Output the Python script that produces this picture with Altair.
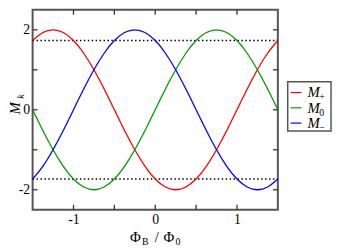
import altair as alt
import pandas as pd

# ---- data ----
x_vals = [-1.5, -1.375, -1.25, -1.125, -1.0, -0.875, -0.75, -0.625, -0.5, -0.375,
          -0.25, -0.125, 0.0, 0.125, 0.25, 0.375, 0.5, 0.625, 0.75, 0.875,
          1.0, 1.125, 1.25, 1.375, 1.5]
m_plus = [1.732, 1.932, 2.0, 1.932, 1.732, 1.414, 1.0, 0.518, 0.0, -0.518,
          -1.0, -1.414, -1.732, -1.932, -2.0, -1.932, -1.732, -1.414, -1.0, -0.518,
          0.0, 0.518, 1.0, 1.414, 1.732]
m_zero = [0.0, -0.518, -1.0, -1.414, -1.732, -1.932, -2.0, -1.932, -1.732, -1.414,
          -1.0, -0.518, 0.0, 0.518, 1.0, 1.414, 1.732, 1.932, 2.0, 1.932,
          1.732, 1.414, 1.0, 0.518, 0.0]
m_minus = [-1.732, -1.414, -1.0, -0.518, 0.0, 0.518, 1.0, 1.414, 1.732, 1.932,
           2.0, 1.932, 1.732, 1.414, 1.0, 0.518, 0.0, -0.518, -1.0, -1.414,
           -1.732, -1.932, -2.0, -1.932, -1.732]
series_names = ["M+", "M0", "M-"]
series_subs = ["+", "0", "\u2212"]
series_colors = ["#ff0000", "#009a00", "#0000ff"]
ref_levels = [1.732, -1.732]
x_ticks = [-1.0, -0.5, 0.0, 0.5, 1.0]
y_ticks = [-2, -1, 0, 1, 2]
x_labels = [-1, 0, 1]
y_labels = [-2, 0, 2]

W, H = 249, 203
FONT = "Liberation Serif"
TICK = 5

rows = []
for name, vals in zip(series_names, [m_plus, m_zero, m_minus]):
    for xv, yv in zip(x_vals, vals):
        rows.append({"x": xv, "v": yv, "series": name})
df = pd.DataFrame(rows)

xs = alt.Scale(domain=[-1.5, 1.5], nice=False, zero=False)
ys = alt.Scale(domain=[-2.5, 2.5], nice=False, zero=False)
x_axis = alt.Axis(values=x_labels, ticks=False, domain=False, grid=False, title=None,
                  labelFont=FONT, labelFontSize=14, labelColor="black", labelPadding=3,
                  labelExpr="'' + datum.value")
y_axis = alt.Axis(values=y_labels, ticks=False, domain=False, grid=False, title=None,
                  labelFont=FONT, labelFontSize=14, labelColor="black", labelPadding=3,
                  labelExpr="'' + datum.value")

X = alt.X("x:Q", scale=xs, axis=x_axis)
Y = alt.Y("v:Q", scale=ys, axis=y_axis)

refs = alt.Chart(pd.DataFrame({"v": ref_levels})).mark_rule(
    color="black", strokeWidth=1.5, strokeDash=[1.5, 2.5]
).encode(y=Y, x=alt.value(0), x2=alt.value(W))

lines = alt.Chart(df).mark_line(strokeWidth=1.3, interpolate="natural").encode(
    x=X, y=Y,
    color=alt.Color("series:N", scale=alt.Scale(domain=series_names, range=series_colors), legend=None),
)

xt = pd.DataFrame({"x": x_ticks})
yt = pd.DataFrame({"v": y_ticks})
tick_style = dict(color="#333", strokeWidth=1.3)
ticks = [
    alt.Chart(xt).mark_rule(**tick_style).encode(x=X, y=alt.value(0), y2=alt.value(TICK)),
    alt.Chart(xt).mark_rule(**tick_style).encode(x=X, y=alt.value(H), y2=alt.value(H - TICK)),
    alt.Chart(yt).mark_rule(**tick_style).encode(y=Y, x=alt.value(0), x2=alt.value(TICK)),
    alt.Chart(yt).mark_rule(**tick_style).encode(y=Y, x=alt.value(W), x2=alt.value(W - TICK)),
]

one = pd.DataFrame({"a": [0]})


def txt(s, x, y, size, italic=False, angle=0, align="left", baseline="alphabetic"):
    kw = dict(text=s, font=FONT, fontSize=size, color="black", align=align, baseline=baseline)
    if italic:
        kw["fontStyle"] = "italic"
    if angle:
        kw["angle"] = angle
    return alt.Chart(one).mark_text(**kw).encode(x=alt.value(x), y=alt.value(y))


titles = [
    txt("M", -18, 100, 15, italic=True, angle=270, align="center", baseline="middle"),
    txt("k", -12, 88, 10, italic=True, angle=270, align="center", baseline="middle"),
    txt("\u03a6", 99, 236, 15),
    txt("B", 111, 239, 10),
    txt("/", 124, 236, 15),
    txt("\u03a6", 133, 236, 15),
    txt("0", 145, 239, 10),
]

legend = [
    alt.Chart(one).mark_rect(fill="white", stroke="#555", strokeWidth=1.5).encode(
        x=alt.value(259), x2=alt.value(303), y=alt.value(73), y2=alt.value(123))
]
for i, (sub, col) in enumerate(zip(series_subs, series_colors)):
    ry = 84 + 15.5 * i
    legend.append(alt.Chart(one).mark_rule(color=col, strokeWidth=1.2).encode(
        x=alt.value(262), x2=alt.value(273), y=alt.value(ry)))
    legend.append(txt("M", 279, ry + 5, 15, italic=True))
    legend.append(txt(sub, 291, ry + 8, 10))

chart = alt.layer(refs, lines, *ticks, *titles, *legend).properties(
    width=W, height=H,
    autosize=alt.AutoSizeParams(type="none"),
    padding={"left": 25, "top": 0, "right": 56, "bottom": 38},
).configure_view(stroke="#555", strokeWidth=2)

chart.save("out.html", embed_options={"renderer": "svg", "actions": False})
